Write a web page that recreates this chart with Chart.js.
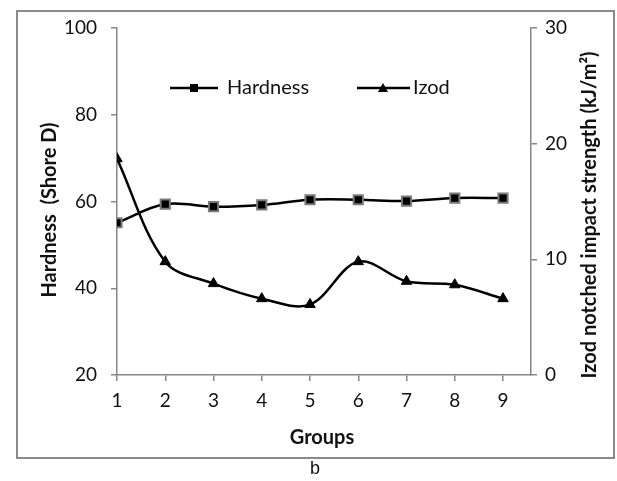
<!DOCTYPE html>
<html>
<head>
<meta charset="utf-8">
<script src="https://cdn.jsdelivr.net/npm/chart.js@4"></script>
<style>
  html, body { margin: 0; padding: 0; background: #fff; }
  canvas { display: block; }
</style>
</head>
<body>
<canvas id="myChart" width="617" height="481"></canvas>
<script>
const groups = [1, 2, 3, 4, 5, 6, 7, 8, 9];
const hardness = [55.1, 59.4, 58.8, 59.2, 60.4, 60.4, 60.1, 60.8, 60.8];
const izod = [18.7, 9.8, 7.9, 6.6, 6.1, 9.8, 8.1, 7.8, 6.6];
const leftTicks = [20, 40, 60, 80, 100];
const rightTicks = [0, 10, 20, 30];

const axisGray = '#868686';
const fontFam = 'Lato, "Open Sans", sans-serif';

// frame, axis titles, caption and in-plot legend
const extras = {
  id: 'extras',
  beforeDraw(chart) {
    const { ctx } = chart;
    ctx.save();
    ctx.fillStyle = '#fff';
    ctx.fillRect(0, 0, chart.width, chart.height);
    ctx.strokeStyle = '#8a8a8a';
    ctx.lineWidth = 2;
    ctx.strokeRect(17, 11, 597, 447);
    ctx.restore();
  },
  afterDraw(chart) {
    const { ctx } = chart;
    ctx.save();
    ctx.fillStyle = '#111';
    ctx.textAlign = 'center';
    ctx.textBaseline = 'middle';
    ctx.font = 'bold 20px ' + fontFam;
    ctx.fillText('Groups', 322, 438);

    ctx.save();
    ctx.translate(50, 210);
    ctx.rotate(-Math.PI / 2);
    ctx.fillText('Hardness  (Shore D)', 0, 0);
    ctx.restore();

    ctx.save();
    ctx.translate(590, 215);
    ctx.rotate(-Math.PI / 2);
    ctx.fillText('Izod notched impact strength (kJ/m\u00B2)', 0, 0);
    ctx.restore();

    ctx.font = '18px "Liberation Sans", Arial, sans-serif';
    ctx.fillText('b', 315, 469);

    // legend
    const ly = 88;
    ctx.strokeStyle = '#000';
    ctx.lineWidth = 2.5;
    ctx.beginPath();
    ctx.moveTo(170, ly); ctx.lineTo(218, ly);
    ctx.moveTo(357, ly); ctx.lineTo(410, ly);
    ctx.stroke();
    ctx.fillStyle = '#000';
    ctx.fillRect(190, ly - 4, 8, 8);
    ctx.beginPath();
    ctx.moveTo(383, ly - 5); ctx.lineTo(388, ly + 4); ctx.lineTo(378, ly + 4);
    ctx.closePath();
    ctx.fill();
    ctx.fillStyle = '#111';
    ctx.textAlign = 'left';
    ctx.font = '20px ' + fontFam;
    ctx.fillText('Hardness', 227, ly);
    ctx.fillText('Izod', 413, ly);
    ctx.restore();
  }
};

const data = {
  datasets: [{
    label: 'Hardness',
    data: groups.map((g, i) => ({ x: g, y: hardness[i] })),
    yAxisID: 'y',
    borderColor: '#000',
    borderWidth: 2.5,
    tension: 0.35,
    pointStyle: 'rect',
    pointRadius: 6.5,
    pointBackgroundColor: '#000',
    pointBorderColor: '#7a7a7a',
    pointBorderWidth: 2
  }, {
    label: 'Izod',
    data: groups.map((g, i) => ({ x: g, y: izod[i] })),
    yAxisID: 'y1',
    borderColor: '#000',
    borderWidth: 2.5,
    tension: 0.35,
    pointStyle: 'triangle',
    pointRadius: 6,
    pointBackgroundColor: '#000',
    pointBorderColor: '#000',
    pointBorderWidth: 1
  }]
};

const tickFont = { family: fontFam, size: 19 };

const config = {
  type: 'line',
  data,
  options: {
    responsive: false,
    animation: false,
    devicePixelRatio: 1,
    layout: { padding: { top: 28, left: 0, right: 0, bottom: 0 } },
    plugins: { legend: { display: false }, tooltip: { enabled: false } },
    scales: {
      x: {
        type: 'linear',
        min: 1,
        max: 9.58,
        afterBuildTicks: (scale) => { scale.ticks = groups.map(v => ({ value: v })); },
        afterFit: (scale) => { scale.height = 481 - 375; },
        border: { color: axisGray, width: 1.5 },
        grid: { drawOnChartArea: false, tickLength: 6, color: axisGray, lineWidth: 1.5 },
        ticks: { font: tickFont, color: '#111', padding: 8, maxRotation: 0 }
      },
      y: {
        position: 'left',
        min: 20,
        max: 100,
        afterBuildTicks: (scale) => { scale.ticks = leftTicks.map(v => ({ value: v })); },
        afterFit: (scale) => { scale.width = 117; },
        border: { color: axisGray, width: 1.5 },
        grid: { drawOnChartArea: false, tickLength: 6, color: axisGray, lineWidth: 1.5 },
        ticks: { font: tickFont, color: '#111', padding: 14 }
      },
      y1: {
        position: 'right',
        min: 0,
        max: 30,
        afterBuildTicks: (scale) => { scale.ticks = rightTicks.map(v => ({ value: v })); },
        afterFit: (scale) => { scale.width = 617 - 531; },
        border: { color: axisGray, width: 1.5 },
        grid: { drawOnChartArea: false, tickLength: 6, color: axisGray, lineWidth: 1.5 },
        ticks: { font: tickFont, color: '#111', padding: 8 }
      }
    }
  },
  plugins: [extras]
};

const myChart = new Chart(document.getElementById('myChart'), config);
</script>
</body>
</html>
